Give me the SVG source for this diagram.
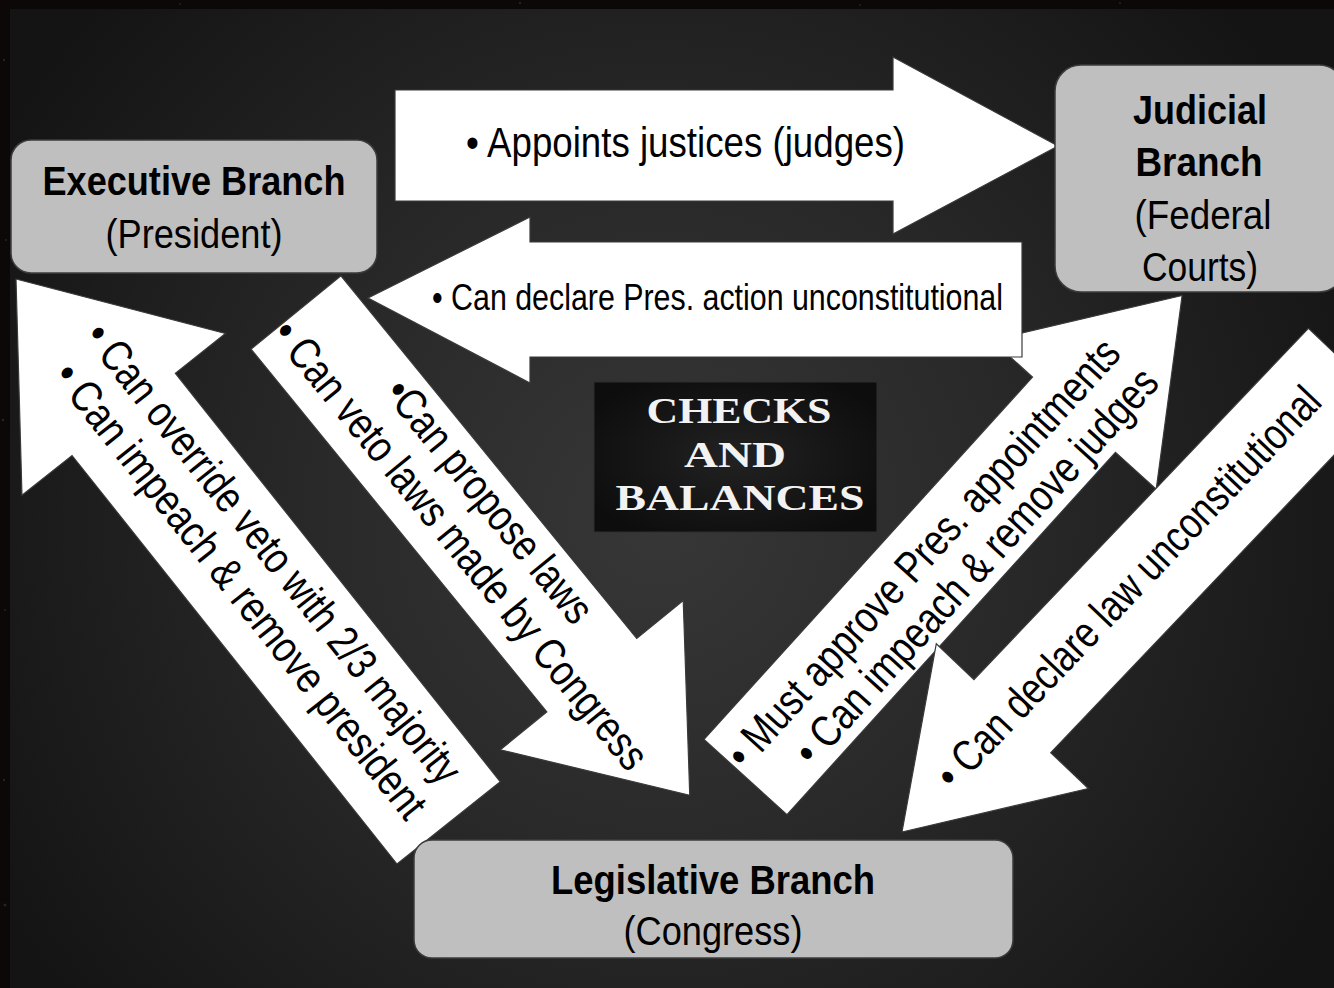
<svg xmlns="http://www.w3.org/2000/svg" width="1334" height="988" viewBox="0 0 1334 988">
  <defs>
    <radialGradient id="panelGrad" gradientUnits="userSpaceOnUse" cx="660" cy="520" r="760">
      <stop offset="0" stop-color="#373737"/>
      <stop offset="0.45" stop-color="#292929"/>
      <stop offset="1" stop-color="#141414"/>
    </radialGradient>
    <radialGradient id="titleGrad" cx="0.5" cy="0.5" r="0.6">
      <stop offset="0" stop-color="#222222"/>
      <stop offset="1" stop-color="#0d0d0d"/>
    </radialGradient>
    <style>
      .arrow { fill: #ffffff; stroke: #3a3a3a; stroke-width: 1.2; stroke-linejoin: miter; }
      .box { fill: #bfbfbf; stroke: #3c3c3c; stroke-width: 1.5; }
      .t { font-family: "Liberation Sans", Arial, sans-serif; fill: #000000; }
      .d { font-size: 44px; }
      .b { font-weight: bold; }
      .title { font-family: "Liberation Serif", "Times New Roman", serif; font-weight: bold; fill: #f2f2f2; font-size: 36px; text-anchor: middle; }
    </style>
  </defs>

  <!-- background -->
  <rect x="0" y="0" width="1334" height="988" fill="#0c0808"/>
  <g fill="#3a2a2a" opacity="0.7">
    <circle cx="4" cy="60" r="1.2"/>
    <circle cx="6" cy="240" r="1"/>
    <circle cx="3" cy="420" r="1.3"/>
    <circle cx="5" cy="610" r="1"/>
    <circle cx="4" cy="780" r="1.2"/>
    <circle cx="5" cy="905" r="1.5"/>
    <circle cx="180" cy="4" r="1"/>
    <circle cx="520" cy="3" r="1.2"/>
    <circle cx="860" cy="5" r="1"/>
    <circle cx="1120" cy="3" r="1.1"/>
  </g>
  <rect x="10" y="9" width="1324" height="979" fill="url(#panelGrad)"/>

  <!-- title node -->
  <g id="checks-and-balances">
    <rect x="594" y="382" width="283" height="150" fill="url(#titleGrad)" stroke="#2e2e2e" stroke-width="1"/>
    <text class="title" x="739" y="423" textLength="185" lengthAdjust="spacingAndGlyphs">CHECKS</text>
    <text class="title" x="735" y="467" textLength="102" lengthAdjust="spacingAndGlyphs">AND</text>
    <text class="title" x="740" y="510" textLength="249" lengthAdjust="spacingAndGlyphs">BALANCES</text>
  </g>

  <!-- connectors (block arrows with labels) -->
  <g id="connectors">
    <!-- Legislative -> Judicial -->
    <g id="leg-to-jud" transform="translate(745.5,777) rotate(-47.8)">
      <polygon class="arrow" points="0,-56 489,-56 489,-111 650,0 489,111 489,56 0,56"/>
      <text class="t d" x="4" y="-4" textLength="562" lengthAdjust="spacingAndGlyphs">• Must approve Pres. appointments</text>
      <text class="t d" x="52" y="44" textLength="518" lengthAdjust="spacingAndGlyphs">• Can impeach &amp; remove judges</text>
    </g>
    <!-- Judicial -> Legislative -->
    <g id="jud-to-leg" transform="translate(902,832) rotate(-46.4)">
      <polygon class="arrow" points="0,0 160,-105 160,-53 645,-53 645,53 160,53 160,105"/>
      <text class="t d" x="65" y="10" textLength="536" lengthAdjust="spacingAndGlyphs">• Can declare law unconstitutional</text>
    </g>
    <!-- Legislative -> Executive -->
    <g id="leg-to-exec" transform="translate(16,279) rotate(51.5)">
      <polygon class="arrow" points="0,0 173,-130 173,-66 695,-66 695,66 173,66 173,130"/>
      <text class="t d" x="87" y="-16" textLength="575" lengthAdjust="spacingAndGlyphs">• Can override veto with 2/3 majority</text>
      <text class="t d" x="99" y="33" textLength="569" lengthAdjust="spacingAndGlyphs">• Can impeach &amp; remove president</text>
    </g>
    <!-- Executive -> Legislative -->
    <g id="exec-to-leg" transform="translate(296,312.5) rotate(50.8)">
      <polygon class="arrow" points="0,-58 468,-58 468,-118 623,0 468,118 468,58 0,58"/>
      <text class="t d" x="118" y="-16" textLength="301" lengthAdjust="spacingAndGlyphs">•Can propose laws</text>
      <text class="t d" x="1" y="34" textLength="566" lengthAdjust="spacingAndGlyphs">• Can veto laws made by Congress</text>
    </g>
    <!-- Executive -> Judicial -->
    <g id="exec-to-jud">
      <polygon class="arrow" points="395,90 893,90 893,57 1058,146 893,234 893,201 395,201"/>
      <text class="t" font-size="42" x="466" y="157" textLength="439" lengthAdjust="spacingAndGlyphs">• Appoints justices (judges)</text>
    </g>
    <!-- Judicial -> Executive -->
    <g id="jud-to-exec">
      <polygon class="arrow" points="1022,242 530,242 530,217 368,298 530,383 530,357 1022,357"/>
      <text class="t" font-size="36" x="432" y="310" textLength="571" lengthAdjust="spacingAndGlyphs">• Can declare Pres. action unconstitutional</text>
    </g>
  </g>

  <!-- nodes -->
  <g id="executive">
    <rect class="box" x="11" y="140" width="366" height="133" rx="20"/>
    <text class="t b" font-size="40" x="194" y="195" text-anchor="middle" textLength="303" lengthAdjust="spacingAndGlyphs">Executive Branch</text>
    <text class="t" font-size="40" x="194" y="248" text-anchor="middle" textLength="177" lengthAdjust="spacingAndGlyphs">(President)</text>
  </g>
  <g id="judicial">
    <rect class="box" x="1055" y="65" width="290" height="227" rx="26"/>
    <text class="t b" font-size="40" x="1200" y="124" text-anchor="middle" textLength="134" lengthAdjust="spacingAndGlyphs">Judicial</text>
    <text class="t b" font-size="40" x="1199" y="176" text-anchor="middle" textLength="127" lengthAdjust="spacingAndGlyphs">Branch</text>
    <text class="t" font-size="40" x="1203" y="229" text-anchor="middle" textLength="137" lengthAdjust="spacingAndGlyphs">(Federal</text>
    <text class="t" font-size="40" x="1200" y="281" text-anchor="middle" textLength="116" lengthAdjust="spacingAndGlyphs">Courts)</text>
  </g>
  <g id="legislative">
    <rect class="box" x="414" y="840" width="599" height="118" rx="18"/>
    <text class="t b" font-size="40" x="713" y="894" text-anchor="middle" textLength="324" lengthAdjust="spacingAndGlyphs">Legislative Branch</text>
    <text class="t" font-size="40" x="713" y="945" text-anchor="middle" textLength="179" lengthAdjust="spacingAndGlyphs">(Congress)</text>
  </g>
</svg>
